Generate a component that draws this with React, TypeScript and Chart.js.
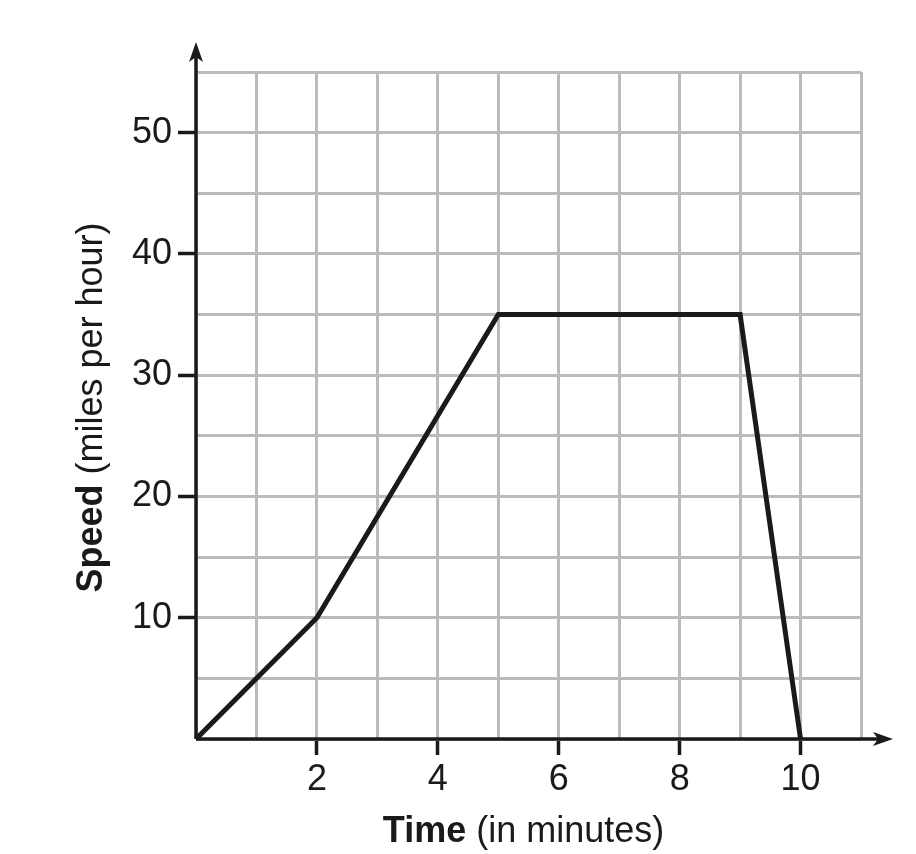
import React, { useEffect, useRef } from "react";
import { Chart, registerables } from "chart.js";

Chart.register(...registerables);

const timeMinutes = [0, 2, 5, 9, 10];
const speedMph = [0, 10, 35, 35, 0];
const xTickLabels = [2, 4, 6, 8, 10];
const yTickLabels = [10, 20, 30, 40, 50];

const INK = "#1a1a1a";
const GRID = "#bbbbbb";
const FONT = "'Liberation Sans', Arial, sans-serif";

const axesPlugin = {
  id: "arrowAxes",
  beforeDatasetsDraw(chart: any) {
    const { ctx } = chart;
    const x = chart.scales.x;
    const y = chart.scales.y;
    const ox = x.getPixelForValue(0);
    const oy = y.getPixelForValue(0);
    const xEnd = x.getPixelForValue(11) + 32;
    const yEnd = y.getPixelForValue(55) - 30;
    ctx.save();
    ctx.strokeStyle = INK;
    ctx.fillStyle = INK;
    ctx.lineWidth = 3.5;
    ctx.beginPath();
    ctx.moveTo(ox, oy);
    ctx.lineTo(xEnd - 6, oy);
    ctx.moveTo(ox, oy);
    ctx.lineTo(ox, yEnd + 6);
    ctx.stroke();
    // x arrow head
    ctx.beginPath();
    ctx.moveTo(xEnd, oy);
    ctx.lineTo(xEnd - 20, oy - 7);
    ctx.lineTo(xEnd - 15, oy);
    ctx.lineTo(xEnd - 20, oy + 7);
    ctx.closePath();
    ctx.fill();
    // y arrow head
    ctx.beginPath();
    ctx.moveTo(ox, yEnd);
    ctx.lineTo(ox - 7, yEnd + 20);
    ctx.lineTo(ox, yEnd + 15);
    ctx.lineTo(ox + 7, yEnd + 20);
    ctx.closePath();
    ctx.fill();
    ctx.restore();
  },
};

function drawMixed(ctx: any, bold: string, regular: string, size: number) {
  ctx.font = `bold ${size}px ${FONT}`;
  const wb = ctx.measureText(bold).width;
  ctx.font = `${size}px ${FONT}`;
  const wr = ctx.measureText(regular).width;
  const total = wb + wr;
  ctx.textAlign = "left";
  ctx.textBaseline = "alphabetic";
  ctx.font = `bold ${size}px ${FONT}`;
  ctx.fillText(bold, -total / 2, 0);
  ctx.font = `${size}px ${FONT}`;
  ctx.fillText(regular, -total / 2 + wb, 0);
}

const titlesPlugin = {
  id: "mixedTitles",
  afterDraw(chart: any) {
    const { ctx, chartArea } = chart;
    ctx.save();
    ctx.fillStyle = INK;
    ctx.translate((chartArea.left + chartArea.right) / 2 - 5, 842);
    drawMixed(ctx, "Time", " (in minutes)", 36);
    ctx.restore();
    ctx.save();
    ctx.fillStyle = INK;
    ctx.translate(102, (chartArea.top + chartArea.bottom) / 2 + 2);
    ctx.rotate(-Math.PI / 2);
    drawMixed(ctx, "Speed", " (miles per hour)", 36);
    ctx.restore();
  },
};

export default function App() {
  const ref = useRef<HTMLCanvasElement>(null);
  useEffect(() => {
    document.body.style.margin = "0";
    const chart = new Chart(ref.current!, {
      type: "line",
      data: {
        datasets: [
          {
            data: timeMinutes.map((t, i) => ({ x: t, y: speedMph[i] })),
            borderColor: INK,
            borderWidth: 5,
            pointRadius: 0,
            tension: 0,
            borderJoinStyle: "miter",
            clip: false as any,
          },
        ],
      },
      options: {
        animation: false,
        responsive: false,
        maintainAspectRatio: false,
        layout: { padding: { left: 0, top: 72, right: 55, bottom: 0 } },
        plugins: { legend: { display: false }, tooltip: { enabled: false } },
        scales: {
          x: {
            type: "linear",
            min: 0,
            max: 11,
            afterFit: (s: any) => {
              s.height = 115;
            },
            border: { display: false },
            grid: {
              color: GRID,
              lineWidth: 3,
              tickLength: 16,
              tickWidth: 3.5,
              tickColor: (c: any) =>
                xTickLabels.includes(c.tick?.value) ? INK : "rgba(0,0,0,0)",
            },
            ticks: {
              stepSize: 1,
              autoSkip: false,
              maxRotation: 0,
              padding: 3,
              color: INK,
              font: { family: FONT, size: 36 },
              callback: (v: any) => (xTickLabels.includes(v) ? String(v) : ""),
            },
          },
          y: {
            type: "linear",
            min: 0,
            max: 55,
            afterFit: (s: any) => {
              s.width = 196;
            },
            border: { display: false },
            grid: {
              color: GRID,
              lineWidth: 3,
              tickLength: 18,
              tickWidth: 3.5,
              tickColor: (c: any) =>
                yTickLabels.includes(c.tick?.value) ? INK : "rgba(0,0,0,0)",
            },
            ticks: {
              stepSize: 5,
              autoSkip: false,
              padding: 6,
              color: INK,
              font: { family: FONT, size: 36 },
              callback: (v: any) => (yTickLabels.includes(v) ? String(v) : ""),
            },
          },
        },
      },
      plugins: [axesPlugin, titlesPlugin],
    });
    return () => chart.destroy();
  }, []);
  return (
    <div style={{ position: "absolute", left: 0, top: 0, width: 916, height: 854, background: "#fff" }}>
      <canvas ref={ref} width={916} height={854} style={{ width: 916, height: 854, display: "block" }} />
    </div>
  );
}
